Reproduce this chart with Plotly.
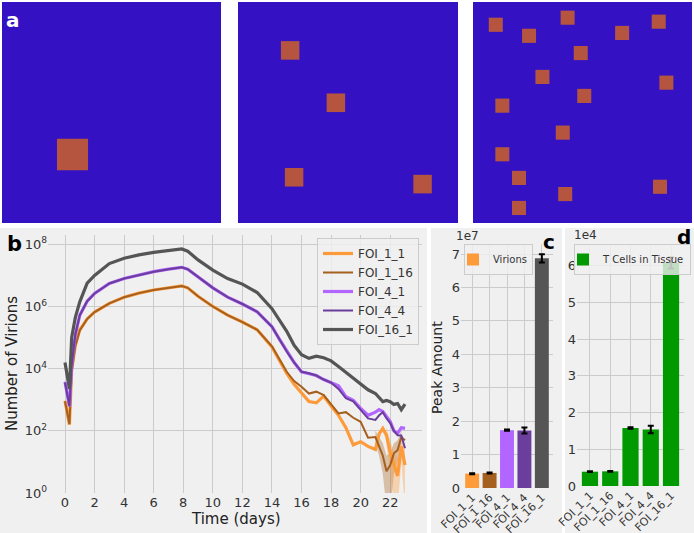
import plotly.graph_objects as go

W, H = 694, 533

# ---- panel a: infected sites (panel units 0-100, y downwards)
a1_x = [32.2]
a1_y = [69.0]
a2_x = [23.7, 44.5, 25.5, 83.9]
a2_y = [21.9, 45.6, 79.3, 82.4]
a3_x = [10.4, 25.6, 43.2, 68.1, 84.8, 49.2, 31.7, 88.3, 50.8, 13.4, 41.0, 13.4, 21.0, 85.4, 42.1, 21.0]
a3_y = [10.3, 15.3, 7.1, 14.0, 8.9, 23.1, 33.9, 36.5, 42.5, 46.9, 59.1, 68.9, 79.6, 83.6, 86.9, 93.2]

# ---- panel b: virions over time (log10 of count)
t = [0, 0.3, 0.45, 0.7, 1, 1.5, 2, 3, 4, 5, 6, 7, 7.9, 8.3, 9, 10, 11, 12, 13, 14, 14.5,
     15, 15.5, 16, 16.5, 17, 17.5, 18, 18.5, 19, 19.5, 20, 20.5, 21, 21.25, 21.5, 21.75,
     22, 22.25, 22.5, 22.75, 23]
log_foi_1_1 = [2.97, 2.2, 3.95, 4.75, 5.25, 5.6, 5.82, 6.1, 6.3, 6.43, 6.53, 6.6, 6.66, 6.6,
               6.33, 6.0, 5.72, 5.5, 5.25, 4.7, 4.25, 3.85, 3.5, 3.2, 2.94, 2.9, 3.12, 2.8,
               2.5, 2.1, 1.55, 1.65, 1.5, 1.4, 1.9, 2.08, 1.85, 1.3, 0.9, 0.55, 1.5, 0.9]
log_foi_1_16 = [2.95, 2.22, 3.9, 4.73, 5.23, 5.6, 5.82, 6.1, 6.3, 6.43, 6.53, 6.6, 6.66, 6.6,
                6.33, 6.0, 5.72, 5.5, 5.25, 4.72, 4.3, 3.9, 3.6, 3.42, 3.2, 3.26, 3.15, 2.85,
                2.56, 2.6, 2.42, 2.29, 1.78, 1.8, 1.5, 1.2, 0.7, 0.9, 1.28, 1.38, 1.8, 1.7]
log_foi_4_1 = [3.58, 2.78, 4.1, 5.1, 5.72, 6.17, 6.42, 6.74, 6.9, 7.02, 7.12, 7.2, 7.26, 7.2,
               6.95, 6.6, 6.3, 6.08, 5.83, 5.35, 4.95, 4.55, 4.2, 3.9, 3.85, 3.78, 3.65, 3.55,
               3.45, 3.1, 2.98, 2.72, 2.5, 2.6, 2.68, 2.62, 2.45, 2.3, 2.0, 1.92, 2.1, 2.08]
log_foi_4_4 = [3.55, 2.8, 4.1, 5.1, 5.72, 6.17, 6.42, 6.74, 6.9, 7.02, 7.12, 7.2, 7.26, 7.2,
               6.95, 6.6, 6.3, 6.08, 5.83, 5.35, 4.95, 4.55, 4.2, 3.9, 3.85, 3.78, 3.65, 3.55,
               3.35, 3.05, 2.95, 2.68, 2.4, 2.35, 2.5, 2.6, 2.4, 2.25, 2.0, 1.86, 1.85, 1.44]
log_foi_16_1 = [4.2, 3.35, 5.0, 5.65, 6.15, 6.75, 7.0, 7.38, 7.55, 7.66, 7.74, 7.8, 7.85, 7.78,
                7.5, 7.17, 6.9, 6.72, 6.45, 5.93, 5.55, 5.2, 4.75, 4.45, 4.33, 4.4, 4.35, 4.25,
                4.07, 3.88, 3.7, 3.53, 3.32, 3.2, 3.08, 2.94, 2.98, 2.94, 2.85, 2.88, 2.68, 2.86]

# shaded spread at the noisy tail
band_1_16_t = [21.0, 21.25, 21.5, 21.75, 22.0, 22.25, 22.5, 22.75]
band_1_16_lo = [1.6, 1.2, 0.6, -0.5, -0.5, 0.6, 1.0, 1.5]
band_1_16_hi = [2.0, 1.8, 1.6, 1.2, 1.3, 1.6, 1.7, 2.0]
band_1_1_t = [21.75, 22.0, 22.25, 22.5, 22.75, 23.0]
band_1_1_lo = [1.5, 0.8, -0.5, -0.5, 1.0, -0.5]
band_1_1_hi = [2.1, 1.7, 1.3, 1.1, 1.8, 1.4]

# ---- panels c, d: peak amounts
groups = ["FOI_1_1", "FOI_1_16", "FOI_4_1", "FOI_4_4", "FOI_16_1"]
virion_peak = [4.3e6, 4.5e6, 1.73e7, 1.72e7, 6.87e7]
virion_err = [1.5e5, 1.5e5, 2e5, 9e5, 1.2e6]
tcell_peak = [3.9e3, 4.0e3, 1.58e4, 1.54e4, 6.08e4]
tcell_err = [1e2, 1e2, 2e2, 1e3, 1.5e3]

colors = ["#fd9a3a", "#a5601f", "#b266ff", "#6b3d9c", "#555555"]
widths = [3.2, 2.0, 3.2, 2.0, 3.2]
series = [log_foi_1_1, log_foi_1_16, log_foi_4_1, log_foi_4_4, log_foi_16_1]

BG = "#f0f0f0"
GRID = "#cbcbcb"
FONT = "DejaVu Sans"


def px_x(p):
    return p / W


def px_y(p):
    return 1 - p / H


fig = go.Figure()

# bands
for bt, lo, hi, c in [(band_1_16_t, band_1_16_lo, band_1_16_hi, "rgba(165,96,31,0.35)"),
                      (band_1_1_t, band_1_1_lo, band_1_1_hi, "rgba(253,154,58,0.35)")]:
    fig.add_trace(go.Scatter(
        x=bt + bt[::-1], y=[10 ** v for v in hi] + [10 ** v for v in lo[::-1]],
        fill="toself", fillcolor=c, line=dict(width=0), mode="lines",
        showlegend=False, hoverinfo="skip", xaxis="x", yaxis="y"))

for name, s, c, w in zip(groups, series, colors, widths):
    fig.add_trace(go.Scatter(
        x=t, y=[10 ** v for v in s], mode="lines", name=name,
        line=dict(color=c, width=w), xaxis="x", yaxis="y", legend="legend"))

fig.add_trace(go.Bar(
    x=groups, y=virion_peak, marker=dict(color=colors, line=dict(width=0)),
    error_y=dict(type="data", array=virion_err, color="black", thickness=2, width=3),
    name="Virions", xaxis="x2", yaxis="y2", legend="legend2", showlegend=True))

fig.add_trace(go.Bar(
    x=groups, y=tcell_peak, marker=dict(color="#009a00", line=dict(width=0)),
    error_y=dict(type="data", array=tcell_err, color="black", thickness=2, width=3),
    name="T Cells in Tissue", xaxis="x3", yaxis="y3", legend="legend3", showlegend=True))

# invisible anchors for panel a axes
for ax in ["x4", "x5", "x6"]:
    fig.add_trace(go.Scatter(x=[0], y=[0], xaxis=ax, yaxis="y" + ax[1:], mode="markers",
                             marker=dict(opacity=0), showlegend=False, hoverinfo="skip"))

shapes = []
# gray panel backgrounds (b, c, d)
for x0, x1 in [(0, 427), (431, 562), (565, 694)]:
    shapes.append(dict(type="rect", xref="paper", yref="paper",
                       x0=px_x(x0), x1=px_x(x1), y0=0, y1=px_y(228),
                       fillcolor=BG, line=dict(width=0), layer="below"))

panels_a = [("x4", "y4", a1_x, a1_y, 14.2), ("x5", "y5", a2_x, a2_y, 8.4),
            ("x6", "y6", a3_x, a3_y, 6.4)]
for xa, ya, xs, ys, sz in panels_a:
    shapes.append(dict(type="rect", xref=xa, yref=ya, x0=0, x1=100, y0=0, y1=100,
                       fillcolor="#3412c4", line=dict(width=0), layer="above"))
    for cx, cy in zip(xs, ys):
        shapes.append(dict(type="rect", xref=xa, yref=ya,
                           x0=cx - sz / 2, x1=cx + sz / 2, y0=cy - sz / 2, y1=cy + sz / 2,
                           fillcolor="#b5553f", line=dict(width=0), layer="above"))

axis_common = dict(showgrid=True, gridcolor=GRID, gridwidth=1, zeroline=False,
                   showline=False, ticks="", automargin=False,
                   tickfont=dict(size=13, color="#333333"))

legend_small = dict(xanchor="left", yanchor="top", bgcolor="rgba(240,240,240,0.8)",
                    bordercolor="#cccccc", borderwidth=1,
                    font=dict(size=10, color="#333333"), itemwidth=30, indentation=-12)

layout = dict(
    width=W, height=H, margin=dict(l=0, r=0, t=0, b=0, autoexpand=False),
    paper_bgcolor="white", plot_bgcolor=BG,
    font=dict(family=FONT, color="#222222"),
    bargap=0.2, shapes=shapes,
    xaxis=dict(axis_common, domain=[px_x(48), px_x(422)], range=[-1.15, 24.15],
               tickvals=list(range(0, 23, 2)), anchor="y"),
    yaxis=dict(axis_common, type="log", domain=[px_y(493), px_y(235)], range=[0, 8.3],
               tickvals=[1, 1e2, 1e4, 1e6, 1e8],
               ticktext=["10<sup>0</sup>", "10<sup>2</sup>", "10<sup>4</sup>",
                         "10<sup>6</sup>", "10<sup>8</sup>"], anchor="x"),
    xaxis2=dict(axis_common, domain=[px_x(461), px_x(553)], range=[-0.64, 4.64],
                tickangle=-45, tickfont=dict(size=11, color="#333333"), anchor="y2"),
    yaxis2=dict(axis_common, domain=[px_y(488), px_y(244)], range=[0, 7.3e7],
                tickvals=[i * 1e7 for i in range(8)], ticktext=[str(i) for i in range(8)],
                anchor="x2"),
    xaxis3=dict(axis_common, domain=[px_x(577), px_x(684)], range=[-0.64, 4.64],
                tickangle=-45, tickfont=dict(size=11, color="#333333"), anchor="y3"),
    yaxis3=dict(axis_common, domain=[px_y(486), px_y(246)], range=[0, 6.54e4],
                tickvals=[i * 1e4 for i in range(7)], ticktext=[str(i) for i in range(7)],
                anchor="x3"),
    legend=dict(x=px_x(419), y=px_y(238), xanchor="right", yanchor="top",
                bgcolor="rgba(240,240,240,0.8)", bordercolor="#cccccc", borderwidth=1,
                font=dict(size=12, color="#333333"), tracegroupgap=0),
    legend2=dict(legend_small, x=px_x(464), y=px_y(244)),
    legend3=dict(legend_small, x=px_x(574), y=px_y(244)),
)

for i, (x0, x1) in enumerate([(2, 221), (238, 458), (473, 692)]):
    n = str(i + 4)
    layout["xaxis" + n] = dict(domain=[px_x(x0), px_x(x1)], range=[0, 100], visible=False,
                               anchor="y" + n)
    layout["yaxis" + n] = dict(domain=[px_y(223), px_y(2)], range=[100, 0], visible=False,
                               anchor="x" + n)

annotations = [
    dict(text="<b>a</b>", x=px_x(13), y=px_y(20), font=dict(size=20, color="white")),
    dict(text="<b>b</b>", x=px_x(14), y=px_y(244), font=dict(size=21, color="black")),
    dict(text="<b>c</b>", x=px_x(549), y=px_y(242), font=dict(size=20, color="black")),
    dict(text="<b>d</b>", x=px_x(684), y=px_y(237), font=dict(size=20, color="black")),
    dict(text="Number of Virions", x=px_x(12), y=px_y(364), textangle=-90,
         font=dict(size=15, color="#222222")),
    dict(text="Time (days)", x=px_x(236), y=px_y(519), font=dict(size=15, color="#222222")),
    dict(text="Peak Amount", x=px_x(437), y=px_y(368), textangle=-90,
         font=dict(size=14, color="#222222")),
    dict(text="1e7", x=px_x(468), y=px_y(236), font=dict(size=12, color="#333333")),
    dict(text="1e4", x=px_x(585), y=px_y(235), font=dict(size=12, color="#333333")),
]
for a in annotations:
    a.update(xref="paper", yref="paper", showarrow=False, xanchor="center", yanchor="middle")
layout["annotations"] = annotations

fig.update_layout(layout)
# the page's default 8px body margin would shift the figure
fig.write_html("out.html", config={"displayModeBar": False},
               post_script="document.body.style.margin = '0';")
